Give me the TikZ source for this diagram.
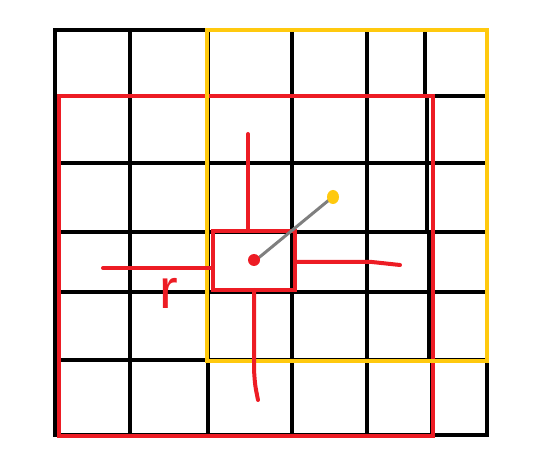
\documentclass[tikz,border=0pt]{standalone}
\usepackage{fontspec}
\setsansfont{Liberation Sans}
\definecolor{pred}{RGB}{237,28,36}
\definecolor{pyel}{RGB}{255,201,14}
\definecolor{pgray}{RGB}{127,127,127}
\begin{document}
\begin{tikzpicture}[x=1pt,y=-1pt,
  gridline/.style={black,line width=4pt},
  redline/.style={pred,line width=4pt,line cap=round},
  yelline/.style={pyel,line width=4pt},
  grayline/.style={pgray,line width=3pt}]
\useasboundingbox (0,0) rectangle (557,462);
% black grid
\foreach \x in {55,130,208,292,367}
  \draw[gridline] (\x,30) -- (\x,435);
\draw[gridline] (425,30) -- (425,95);
\draw[gridline] (427,95) -- (427,230);
\draw[gridline] (429,230) -- (429,360);
\draw[gridline] (432,360) -- (432,438);
\draw[gridline] (487,30) -- (487,435);
\foreach \y in {30,96,163,232,292,360,435}
  \draw[gridline] (53,\y) -- (489,\y);
% red rectangle
\draw[pred,line width=4pt] (59,96) rectangle (433,436);
% yellow rectangle
\draw[yelline] (207,30) rectangle (487,361);
% small red square and arms
\draw[redline] (213,231) -- (295,231) -- (295,290) -- (213,290) -- cycle;
\draw[redline] (248,134) -- (248,231);
\draw[redline] (103,268) -- (212,268);
\draw[redline] (295,262) -- (372,262) -- (400,265);
\draw[redline] (254,290) -- (254,370) .. controls (255,385) .. (258,400);
% center dot, gray line, yellow dot
\draw[grayline] (256,260) -- (329,200);
\fill[pred] (254,260) circle (6);
\fill[pyel] (333,197) ellipse (6 and 7);
% label
\node[pred,anchor=base,inner sep=0pt,font=\sffamily\fontsize{56}{56}\selectfont] (r) at (169,309) {r};
\end{tikzpicture}
\end{document}
